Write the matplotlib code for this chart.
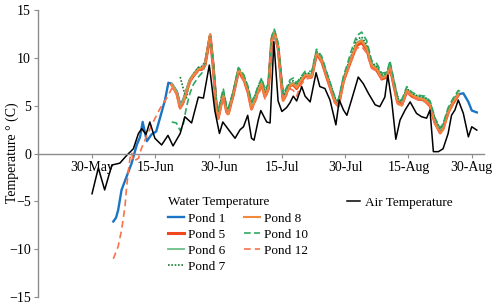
import matplotlib
matplotlib.use('Agg')
import matplotlib.pyplot as plt

plt.rcParams['font.family'] = ['Liberation Serif', 'DejaVu Serif']

# x values are days after 30-May
tick_labels = ['30-May', '15-Jun', '30-Jun', '15-Jul', '30-Jul', '15-Aug', '30-Aug']
tick_days = [0, 15, 30, 45, 60, 75, 90]

air_days = [0, 1.5, 3.0, 4.7, 6.6, 8.2, 9.8, 11.0, 11.8, 12.8, 13.7, 14.9, 16.5, 18.0,
            19.2, 20.9, 22.0, 23.6, 25.2, 26.4, 27.8, 29.1, 30.2, 31.0, 32.7, 33.9,
            35.1, 35.9, 36.9, 37.8, 38.4, 39.4, 40.0, 41.4, 42.2, 43.1, 44.1, 45.0,
            46.1, 46.9, 47.7, 48.5, 49.7, 50.5, 51.7, 53.1, 54.0, 55.2, 56.4, 57.8,
            58.6, 59.6, 60.4, 61.5, 63.1, 64.3, 65.5, 67.1, 68.2, 69.4, 70.1, 71.0,
            72.0, 73.0, 74.2, 75.4, 76.9, 78.1, 79.3, 80.1, 80.9, 82.1, 83.2, 84.4,
            85.2, 86.0, 86.8, 88.0, 89.2, 90.0, 91.2]
air_temp = [-4.2, -1.5, -3.8, -1.2, -1.0, -0.2, 0.5, 2.1, 2.6, 2.0, 3.3, 1.6, 0.9, 1.9,
            0.8, 2.1, 3.85, 3.2, 5.9, 5.8, 9.25, 4.5, 2.1, 3.3, 2.3, 1.6,
            2.5, 2.8, 4.0, 1.6, 1.4, 3.5, 4.5, 3.3, 3.2, 11.7, 5.5, 4.4,
            4.8, 5.3, 6.0, 5.5, 7.0, 6.0, 5.4, 8.45, 7.0, 6.8, 5.6, 3.0,
            5.6, 4.55, 4.0, 5.6, 8.0, 7.3, 6.3, 5.1, 4.9, 5.9, 8.2, 5.6,
            1.5, 3.5, 4.55, 5.4, 4.2, 3.85, 3.7, 4.55, 0.2, 0.2, 0.5, 2.1,
            4.0, 4.55, 5.6, 4.2, 1.75, 2.8, 2.45]

# Pond 1 is logged first and last
p1_days = [5.05, 5.7, 6.2, 7.0, 8.2, 9.4, 10.6, 11.4, 12.0, 13.0, 14.1, 15.2, 16.1,
           17.3, 18.1, 18.9, 20.1, 20.9, 21.6, 22.4, 23.2, 24.0, 25.2, 26.0, 26.8,
           28.0, 28.7, 29.5, 29.9, 31.1, 31.9, 32.3, 33.5, 34.7, 35.9, 37.0, 37.8,
           38.6, 39.4, 40.2, 41.0, 41.8, 42.6, 43.2, 44.1, 44.8, 45.3, 46.1, 46.9,
           47.7, 48.5, 49.3, 50.5, 52.1, 53.2, 54.4, 56.0, 57.6, 58.4, 59.6, 60.4,
           61.5, 62.7, 63.9, 65.1, 66.3, 67.5, 68.7, 69.9, 70.6, 71.6, 72.4, 73.4,
           74.6, 75.8, 77.3, 78.9, 80.1, 81.3, 82.5, 83.2, 84.4, 85.6, 86.8, 88.0,
           89.2, 90.0, 91.2]
pond1 = [-7.1, -6.7, -5.9, -3.8, -2.4, -1.0, 0.9, 1.75, 3.3, 1.3, 2.0, 2.3, 3.7,
         5.6, 7.4, 7.3, 6.5, 5.1, 5.6, 6.6, 7.7, 8.2, 8.9, 8.9, 9.4,
         12.4, 9.4, 4.9, 4.0, 6.3, 4.6, 4.4, 6.3, 8.7, 8.0, 6.6, 5.0,
         5.8, 6.8, 7.5, 6.2, 7.0, 11.9, 12.5, 11.0, 8.0, 5.8, 6.5, 7.2,
         7.3, 7.0, 7.6, 8.2, 8.2, 10.5, 9.8, 7.7, 5.6, 5.25, 7.7, 8.7,
         10.0, 11.4, 11.7, 11.0, 9.25, 8.9, 8.0, 8.2, 9.2, 7.2, 5.6, 5.3,
         6.6, 6.1, 5.8, 5.7, 5.2, 3.4, 2.4, 2.8, 4.4, 5.4, 6.2, 6.3,
         5.4, 4.5, 4.3]

# shared logging days for the other ponds
w_days = [18.9, 20.1, 20.9, 21.6, 22.4, 23.2, 24.0, 25.2, 26.0, 26.8, 28.0, 28.7,
          29.5, 29.9, 31.1, 31.9, 32.3, 33.5, 34.7, 35.9, 37.0, 37.8, 38.6, 39.4,
          40.2, 41.0, 41.8, 42.6, 43.2, 44.1, 44.8, 45.3, 46.1, 46.9, 47.7, 48.5,
          49.3, 50.5, 52.1, 53.2, 54.4, 56.0, 57.6, 58.4, 59.6, 60.4, 61.5, 62.7,
          63.9, 65.1, 66.3, 67.5, 68.7, 69.9, 70.6, 71.6, 72.4, 73.4, 74.6, 75.8,
          77.3, 78.9, 80.1, 81.3, 82.5, 83.2, 84.4, 85.6, 86.8]
pond5 = [7.2, 6.3, 4.8, 5.4, 6.5, 7.6, 8.1, 8.8, 8.8, 9.3, 12.3, 9.2,
         4.6, 3.7, 6.2, 4.4, 4.2, 6.2, 8.6, 7.9, 6.4, 4.7, 5.6, 6.6,
         7.3, 6.0, 6.8, 11.9, 12.7, 11.1, 7.8, 5.6, 6.4, 7.1, 7.2, 6.8,
         7.4, 8.1, 8.1, 10.4, 9.7, 7.5, 5.4, 5.0, 7.6, 8.6, 9.9, 11.3,
         11.6, 10.9, 9.1, 8.7, 7.8, 8.0, 9.1, 7.0, 5.4, 5.1, 6.5, 6.0,
         5.7, 5.6, 5.0, 3.2, 2.2, 2.6, 4.3, 5.3, 6.1]
pond6 = [7.3, 6.5, 5.0, 5.6, 6.7, 7.8, 8.3, 9.0, 9.0, 9.5, 12.3, 9.5,
         5.0, 4.1, 6.4, 4.7, 4.5, 6.4, 8.8, 8.1, 6.7, 5.1, 5.9, 6.9,
         7.6, 6.3, 7.1, 12.0, 12.5, 11.0, 8.1, 5.9, 6.6, 7.3, 7.4, 7.1,
         7.7, 8.3, 8.3, 10.6, 9.9, 7.8, 5.7, 5.3, 7.8, 8.8, 10.1, 11.6,
         11.9, 11.2, 9.4, 9.0, 8.1, 8.3, 9.3, 7.3, 5.7, 5.4, 6.7, 6.2,
         5.9, 5.8, 5.3, 3.5, 2.5, 2.9, 4.5, 5.5, 6.3]
pond8 = [7.2, 6.2, 4.7, 5.3, 6.4, 7.6, 8.2, 8.8, 8.9, 9.4, 12.5, 9.3,
         4.5, 3.6, 6.1, 4.3, 4.1, 6.3, 8.8, 8.0, 6.5, 4.6, 5.5, 6.6,
         7.4, 5.9, 6.9, 12.0, 12.8, 11.2, 7.9, 5.5, 6.3, 7.1, 7.3, 6.9,
         7.5, 8.2, 8.1, 10.5, 9.8, 7.6, 5.3, 4.9, 7.6, 8.7, 10.0, 11.5,
         11.8, 11.0, 9.2, 8.8, 7.9, 8.1, 9.2, 7.1, 5.3, 5.0, 6.6, 6.1,
         5.8, 5.6, 5.1, 3.2, 2.1, 2.5, 4.3, 5.4, 6.2]

pond7_days = [20.9, 21.5, 22.3, 23.2, 24.0, 25.2, 26.0, 26.8, 28.0, 28.7, 29.5,
              29.9, 31.1, 31.9, 32.3, 33.5, 34.7, 35.9, 37.0, 37.8, 38.6, 39.4,
              40.2, 41.0, 41.8, 42.6, 43.2, 44.1, 44.8, 45.3, 46.1, 46.9, 47.7,
              48.5, 49.3, 50.5, 52.1, 53.2, 54.4, 56.0, 57.6, 58.4, 59.6, 60.4,
              61.5, 62.7, 63.9, 65.1, 66.3, 67.5, 68.7, 69.9, 70.6, 71.6, 72.4,
              73.4, 74.6, 75.8, 77.3, 78.9, 80.1, 81.3, 82.5, 83.2, 84.4, 85.6, 86.8]
pond7 = [8.0, 7.0, 5.7, 7.7, 8.3, 9.0, 9.1, 9.6, 12.4, 9.6,
         5.2, 4.3, 6.5, 4.8, 4.6, 6.5, 8.9, 8.2, 6.8, 5.3, 6.0, 7.0,
         7.7, 6.4, 7.2, 12.1, 12.6, 11.3, 8.2, 6.0, 6.7, 7.5, 7.6, 7.2,
         7.8, 8.4, 8.4, 10.7, 10.0, 7.9, 5.8, 5.4, 7.9, 9.0, 10.3, 11.9,
         12.2, 11.4, 9.5, 9.1, 8.2, 8.4, 9.5, 7.4, 5.8, 5.5, 6.8, 6.3,
         6.0, 5.9, 5.4, 3.6, 2.6, 3.0, 4.6, 5.6, 6.4]

pond10_days = [18.9, 20.0, 20.9, 21.6, 22.4, 23.2, 24.0, 25.2, 26.4, 26.8, 28.0,
               28.7, 29.5, 29.9, 31.1, 31.9, 32.3, 33.5, 34.7, 35.9, 37.0, 37.8,
               38.6, 39.4, 40.2, 41.0, 41.8, 42.6, 43.2, 44.1, 44.8, 45.3, 46.1,
               46.9, 47.7, 48.5, 49.3, 50.5, 52.1, 53.2, 54.4, 56.0, 57.6, 58.4,
               59.6, 60.4, 61.5, 62.7, 63.9, 65.1, 66.3, 67.5, 68.7, 69.9, 70.6,
               71.6, 72.4, 73.4, 74.6, 75.8, 77.3, 78.9, 80.1, 81.3, 82.5, 83.2,
               84.4, 85.6, 86.8, 87.2]
pond10 = [3.3, 3.2, 2.4, 3.0, 4.9, 6.3, 7.2, 8.0, 8.6, 9.4, 12.2,
          9.6, 5.3, 4.5, 6.8, 4.9, 4.7, 6.6, 9.0, 8.3, 7.0, 5.4,
          6.1, 7.1, 7.9, 6.7, 7.3, 12.3, 13.0, 11.6, 8.4, 6.2, 6.9,
          7.7, 7.9, 7.4, 7.9, 8.6, 8.6, 10.9, 10.2, 8.0, 5.9, 5.6,
          8.1, 9.2, 10.8, 12.3, 12.7, 11.8, 9.7, 9.4, 8.4, 8.5, 9.7,
          7.6, 6.0, 5.6, 7.0, 6.4, 6.1, 6.0, 5.5, 3.7, 2.7, 3.1,
          4.8, 5.8, 6.6, 6.5]

pond12_days = [5.05, 6.2, 7.0, 7.8, 8.2, 8.6, 9.0, 9.4, 9.8, 11.0, 11.6, 13.0,
               14.5, 16.1, 17.7, 18.9, 20.1, 20.9, 21.6, 22.4, 23.2, 24.0, 25.2,
               26.0, 26.8, 28.0, 28.7, 29.5, 29.9, 31.1, 31.9, 32.3, 33.5, 34.7,
               35.9, 37.0, 37.8, 38.6, 39.4, 40.2, 41.0, 41.8, 42.6, 43.2, 44.1,
               44.8, 45.3, 46.1, 46.9, 47.7, 48.5, 49.3, 50.5, 52.1, 53.2, 54.4,
               56.0, 57.6, 58.4, 59.6, 60.4, 61.5, 62.7, 63.9, 65.1, 66.3, 67.5,
               68.7, 69.9, 70.6, 71.6, 72.4, 73.4, 74.6, 75.8, 77.3, 78.9, 80.1,
               81.3, 82.5, 83.2, 84.4, 85.6, 86.8]
pond12 = [-11.0, -9.7, -8.0, -5.6, -3.5, -1.9, -0.5, 0.1, -0.8, -0.5, 0.4, 1.9,
          3.3, 4.7, 5.8, 6.8, 6.2, 4.6, 5.2, 6.3, 7.4, 8.0, 8.6,
          8.7, 9.1, 12.1, 9.0, 4.4, 3.6, 6.0, 4.2, 4.0, 6.0, 8.4,
          7.6, 6.2, 4.6, 5.3, 6.2, 6.9, 5.7, 6.6, 11.6, 12.3, 10.9,
          7.7, 5.4, 6.1, 6.8, 6.6, 6.0, 7.0, 7.8, 7.9, 10.2, 9.5,
          7.4, 5.3, 4.9, 7.4, 8.4, 9.7, 11.0, 11.2, 10.5, 8.9, 8.6,
          7.7, 7.9, 8.9, 6.9, 5.2, 4.9, 6.4, 5.9, 5.6, 5.4, 4.9,
          3.1, 2.1, 2.5, 4.1, 5.2, 6.0]

fig = plt.figure(figsize=(5, 3.05), dpi=100)
ax = fig.add_axes([0.076, 0.026, 0.892, 0.941])

l1, = ax.plot(p1_days, pond1, color='#1a75c4', lw=1.7, label='Pond 1')
l5, = ax.plot(w_days, pond5, color='#f0481c', lw=2.2, label='Pond 5')
l6, = ax.plot(w_days, pond6, color='#6dbf8a', lw=1.3, label='Pond 6')
l7, = ax.plot(pond7_days, pond7, color='#1f7a32', lw=1.2, ls=(0, (1, 1)), label='Pond 7')
l8, = ax.plot(w_days, pond8, color='#f08a3c', lw=1.5, label='Pond 8')
l10, = ax.plot(pond10_days, pond10, color='#2da860', lw=1.2, ls=(0, (4, 2)), label='Pond 10')
l12, = ax.plot(pond12_days, pond12, color='#f7734a', lw=1.2, ls=(0, (4, 2.5)), label='Pond 12')
la, = ax.plot(air_days, air_temp, color='black', lw=1.1, label='Air Temperature')

ax.set_xlim(-12.8, 92.9)
ax.set_ylim(-15, 15)
ax.set_yticks([-15, -10, -5, 0, 5, 10, 15])
ax.set_xticks(tick_days)
ax.set_xticklabels(tick_labels)

ax.spines['top'].set_visible(False)
ax.spines['right'].set_visible(False)
ax.spines['bottom'].set_position(('data', 0))
for s in ['left', 'bottom']:
    ax.spines[s].set_color('#8c8c8c')
    ax.spines[s].set_linewidth(1.0)
ax.tick_params(axis='both', direction='out', length=3, color='#8c8c8c',
               labelsize=10, pad=2)

fig.text(0.024, 0.5, 'Temperature ° (C)', rotation=90, ha='center', va='center',
         fontsize=10)

leg = fig.legend(handles=[l1, l5, l6, l7, l8, l10, l12], ncol=2, frameon=False,
                 title='Water Temperature', alignment='left', fontsize=9.5,
                 title_fontsize=9.5, loc='upper left',
                 bbox_to_anchor=(0.323, 0.378), borderpad=0, handlelength=1.2,
                 handletextpad=0.3, labelspacing=0.3, columnspacing=1.4)
fig.legend(handles=[la], frameon=False, fontsize=9.5, loc='upper left',
           bbox_to_anchor=(0.68, 0.378), borderpad=0, handlelength=1.0,
           handletextpad=0.4)

fig.savefig('out.png', dpi=100)
